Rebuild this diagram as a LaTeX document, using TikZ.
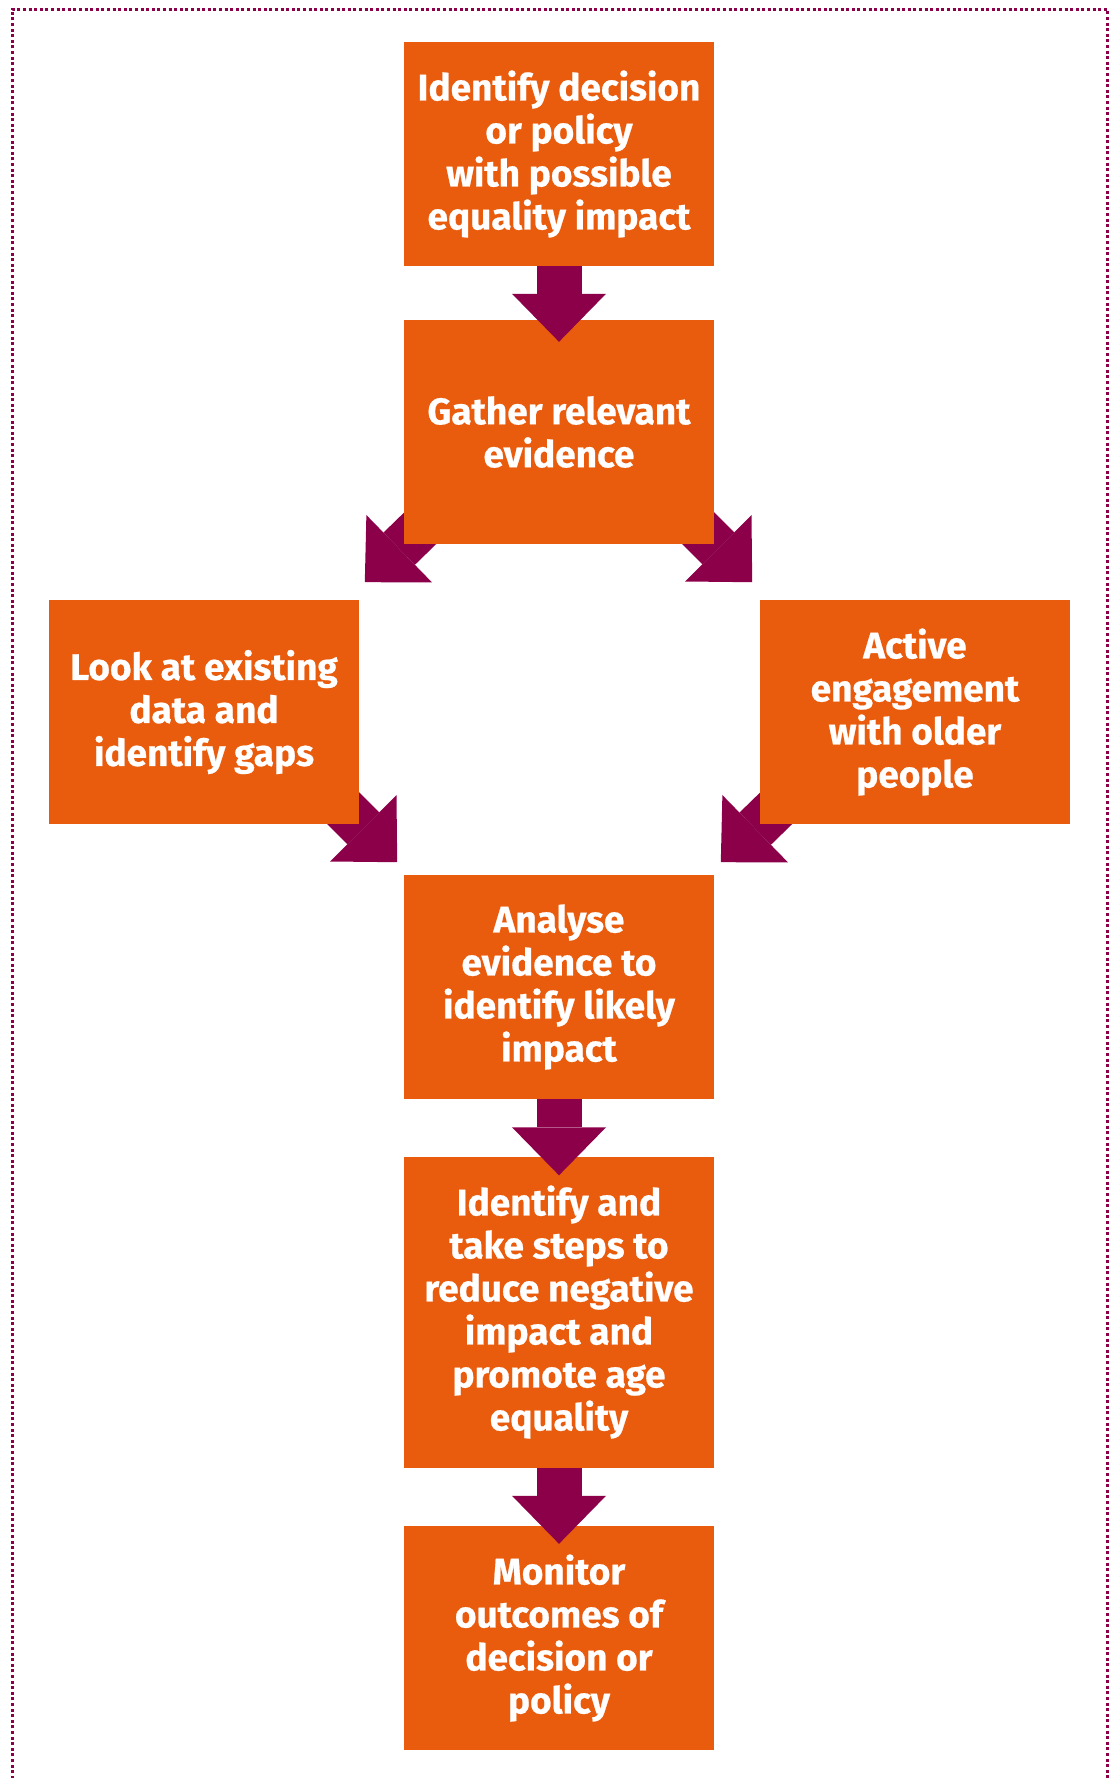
\documentclass[tikz,border=0pt]{standalone}
\usepackage{fontspec}
\setmainfont{Fira Sans}[BoldFeatures={FakeBold=0.6}]
\usetikzlibrary{arrows.meta,calc,backgrounds}
\definecolor{ageorange}{HTML}{E95C0D}
\definecolor{agepurple}{HTML}{8C0049}
\tikzset{
    recorg/.style={draw=none,fill=ageorange,minimum width=310pt,minimum height=224pt,inner sep=0pt,align=center,text=white,font=\bfseries\fontsize{37}{43}\selectfont},
    rectall/.style={recorg,minimum height=311pt},
    arrpur/.style={draw=agepurple,line width=45pt,-{Triangle[width=94pt,length=48pt,line width=0pt]}},
    borderdot/.style={draw=agepurple,line width=3pt,dash pattern=on 3pt off 2.6pt}
}
\begin{document}
\begin{tikzpicture}[x=1pt,y=1pt]
        \useasboundingbox (0,0) rectangle (1112,-1778);
        % dotted frame
        \draw[borderdot] (12,-1790) -- (12,-9) -- (1107,-9) -- (1107,-1790);

        % steps
        \node[recorg] (identify) at (559,-154) {Identify decision\\or policy\\with possible\\equality impact};
        \node[recorg] (gather) at (559,-432) {Gather relevant\\evidence};
        \node[recorg] (existing) at (204,-712) {Look at existing\\data and\\identify gaps};
        \node[recorg] (engage) at (915,-712) {Active\\engagement\\with older\\people};
        \node[recorg] (analyse) at (559,-987) {Analyse\\evidence to\\identify likely\\impact};
        \node[rectall] (steps) at (559,-1312) {Identify and\\take steps to\\reduce negative\\impact and\\promote age\\equality};
        \node[recorg] (monitor) at (559,-1638) {Monitor\\outcomes of\\decision or\\policy};

        % arrow tips between the side boxes
        \coordinate (tipgl) at ($(gather.south west)+(-39,-38)$);
        \coordinate (tipgr) at ($(gather.south east)+(38,-38)$);
        \coordinate (tipel) at ($(existing.south east)+(38,-38)$);
        \coordinate (tiper) at ($(engage.south west)+(-39,-38)$);

        % arrows
        \draw[arrpur,shorten >=-22pt] (identify) -- (gather);
        \draw[arrpur,shorten >=-19pt] (analyse) -- (steps);
        \draw[arrpur,shorten >=-18pt] (steps) -- (monitor);
        \begin{scope}[on background layer]
            \draw[arrpur,shorten <=-40pt] (gather.south west) -- (tipgl);
            \draw[arrpur,shorten <=-40pt] (gather.south east) -- (tipgr);
            \draw[arrpur,shorten <=-40pt] (existing.south east) -- (tipel);
            \draw[arrpur,shorten <=-40pt] (engage.south west) -- (tiper);
        \end{scope}
\end{tikzpicture}
\end{document}
